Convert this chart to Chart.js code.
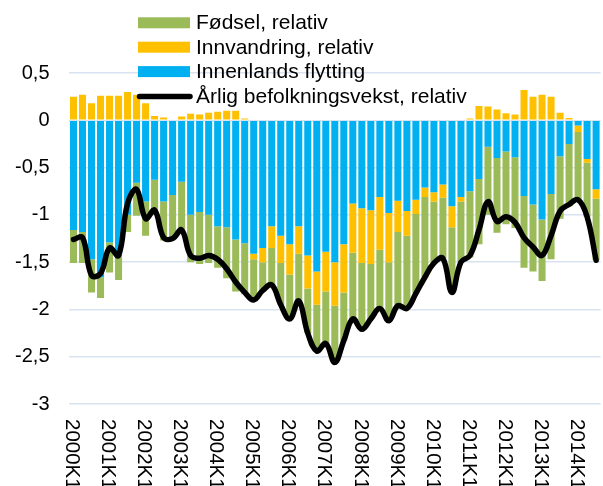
<!DOCTYPE html>
<html>
<head>
<meta charset="utf-8">
<script src="https://cdn.jsdelivr.net/npm/chart.js@4.4.0/dist/chart.umd.min.js"></script>
<style>
  html, body { margin: 0; padding: 0; background: #fff; }
  canvas { display: block; }
</style>
</head>
<body>
<canvas id="myChart" width="603" height="486"></canvas>
<script>
const FONT = 'Arial, "Liberation Sans", sans-serif';

// quarters 2000K1 .. 2014K3
const years = [2000, 2001, 2002, 2003, 2004, 2005, 2006, 2007, 2008, 2009, 2010, 2011, 2012, 2013, 2014];
const quarters = [];
years.forEach(y => ['K1', 'K2', 'K3', 'K4'].forEach(q => quarters.push(y + q)));
quarters.length = 59;

const innenlands = [
  -1.16, -1.18, -1.47, -1.66, -1.29, -1.44, -1.00, -0.66, -0.86, -0.63,
  -0.86, -0.79, -0.65, -1.00, -0.97, -1.00, -1.12, -1.13, -1.26, -1.30,
  -1.41, -1.35, -1.12, -1.22, -1.31, -1.12, -1.43, -1.60, -1.39, -1.50,
  -1.31, -0.88, -0.93, -0.95, -0.81, -0.98, -0.85, -0.96, -0.84, -0.71,
  -0.76, -0.68, -0.91, -0.81, -0.75, -0.62, -0.28, -0.40, -0.33, -0.39,
  -0.80, -0.89, -1.05, -0.78, -0.38, -0.25, -0.055, -0.41, -0.73
];

const innvandring = [
  0.25, 0.27, 0.18, 0.26, 0.26, 0.26, 0.30, 0.27, 0.18, 0.045,
  0.03, 0, 0.04, 0.07, 0.06, 0.08, 0.09, 0.10, 0.10, 0.02,
  -0.06, -0.15, -0.23, -0.29, -0.32, -0.29, -0.35, -0.35, -0.42, -0.46,
  -0.51, -0.52, -0.58, -0.57, -0.56, -0.52, -0.33, -0.26, -0.15, -0.10,
  -0.10, -0.14, -0.22, -0.05, 0.02, 0.15, 0.145, 0.115, 0.075, 0.06,
  0.32, 0.25, 0.27, 0.25, 0.08, 0.023, -0.07, -0.04, -0.10
];

const fodsel = [
  -0.35, -0.33, -0.35, -0.22, -0.32, -0.25, -0.18, -0.35, -0.36, -0.37,
  -0.41, -0.46, -0.55, -0.50, -0.55, -0.51, -0.44, -0.54, -0.55, -0.54,
  -0.43, -0.30, -0.39, -0.44, -0.47, -0.50, -0.47, -0.49, -0.55, -0.60,
  -0.51, -0.70, -0.70, -0.58, -0.62, -0.62, -0.78, -0.77, -0.84, -0.85,
  -0.65, -0.64, -0.69, -0.64, -0.70, -0.69, -0.72, -0.79, -0.77, -0.75,
  -0.76, -0.71, -0.65, -0.69, -0.66, -0.66, -0.72, -0.57, -0.65
];

const vekst = [
  -1.26, -1.24, -1.64, -1.62, -1.35, -1.43, -0.88, -0.73, -1.04, -0.95,
  -1.24, -1.25, -1.16, -1.43, -1.46, -1.43, -1.47, -1.57, -1.71, -1.82,
  -1.90, -1.80, -1.74, -1.95, -2.10, -1.91, -2.25, -2.44, -2.36, -2.56,
  -2.33, -2.10, -2.21, -2.10, -1.99, -2.12, -1.96, -1.99, -1.83, -1.66,
  -1.51, -1.46, -1.82, -1.50, -1.43, -1.16, -0.86, -1.07, -1.02, -1.08,
  -1.24, -1.34, -1.43, -1.22, -0.96, -0.89, -0.84, -1.02, -1.48
];

// x labels drawn rotated clockwise (read top to bottom)
const xLabels = {
  id: 'xLabels',
  afterDraw(chart) {
    const ctx = chart.ctx;
    const xs = chart.scales.x;
    ctx.save();
    ctx.font = '20.5px ' + FONT;
    ctx.fillStyle = '#000';
    ctx.textAlign = 'left';
    ctx.textBaseline = 'alphabetic';
    quarters.forEach((q, i) => {
      if (!q.endsWith('K1')) return;
      const x = xs.getPixelForValue(i);
      ctx.save();
      ctx.translate(x - 7.3, 419);
      ctx.rotate(Math.PI / 2);
      ctx.fillText(q, 0, 0);
      ctx.restore();
    });
    ctx.restore();
  }
};

// legend stacked in a column over the plot
const columnLegend = {
  id: 'columnLegend',
  afterDraw(chart) {
    const ctx = chart.ctx;
    const ds = chart.data.datasets;
    const items = [ds[2], ds[1], ds[0], ds[3]];
    ctx.save();
    ctx.font = '21px ' + FONT;
    ctx.textAlign = 'left';
    ctx.textBaseline = 'alphabetic';
    items.forEach((d, k) => {
      const base = 29.3 + 24.4 * k;
      if (d.type === 'line') {
        ctx.strokeStyle = d.borderColor;
        ctx.lineWidth = 5.5;
        ctx.lineCap = 'round';
        ctx.beginPath();
        ctx.moveTo(139.5, base - 6);
        ctx.lineTo(190, base - 6);
        ctx.stroke();
      } else {
        ctx.fillStyle = d.backgroundColor;
        ctx.fillRect(138, base - 12, 52, 11);
      }
      ctx.fillStyle = '#000';
      ctx.fillText(d.label, 196, base);
    });
    ctx.restore();
  }
};

const ctx = document.getElementById('myChart').getContext('2d');

const myChart = new Chart(ctx, {
  type: 'bar',
  data: {
    labels: quarters,
    datasets: [
      {
        label: 'Innenlands flytting',
        data: innenlands,
        backgroundColor: '#00B0F0',
        stack: 'bars',
        barPercentage: 0.78,
        categoryPercentage: 1
      },
      {
        label: 'Innvandring, relativ',
        data: innvandring,
        backgroundColor: '#FFC000',
        stack: 'bars',
        barPercentage: 0.78,
        categoryPercentage: 1
      },
      {
        label: 'Fødsel, relativ',
        data: fodsel,
        backgroundColor: '#9BBB59',
        stack: 'bars',
        barPercentage: 0.78,
        categoryPercentage: 1
      },
      {
        type: 'line',
        label: 'Årlig befolkningsvekst, relativ',
        data: vekst,
        borderColor: '#000',
        borderWidth: 5.5,
        pointRadius: 0,
        tension: 0.4,
        borderJoinStyle: 'round',
        borderCapStyle: 'round',
        stack: 'line',
        order: -1
      }
    ]
  },
  options: {
    responsive: false,
    animation: false,
    devicePixelRatio: 1,
    layout: { padding: { top: 73, right: 2.4, left: 0, bottom: 0 } },
    plugins: {
      legend: { display: false },
      tooltip: { enabled: false }
    },
    scales: {
      x: {
        stacked: true,
        grid: { display: false },
        border: { display: false },
        ticks: { display: false },
        afterFit(scale) { scale.height = 82; }
      },
      y: {
        stacked: true,
        min: -3,
        max: 0.5,
        border: { display: false },
        grid: { color: '#D9E2F0', lineWidth: 1.5, drawTicks: false },
        ticks: {
          stepSize: 0.5,
          padding: 19.5,
          color: '#000',
          font: { size: 20, family: FONT },
          callback: (v) => String(v).replace('.', ',')
        },
        afterFit(scale) { scale.width = 69; }
      }
    }
  },
  plugins: [xLabels, columnLegend]
});
</script>
</body>
</html>
